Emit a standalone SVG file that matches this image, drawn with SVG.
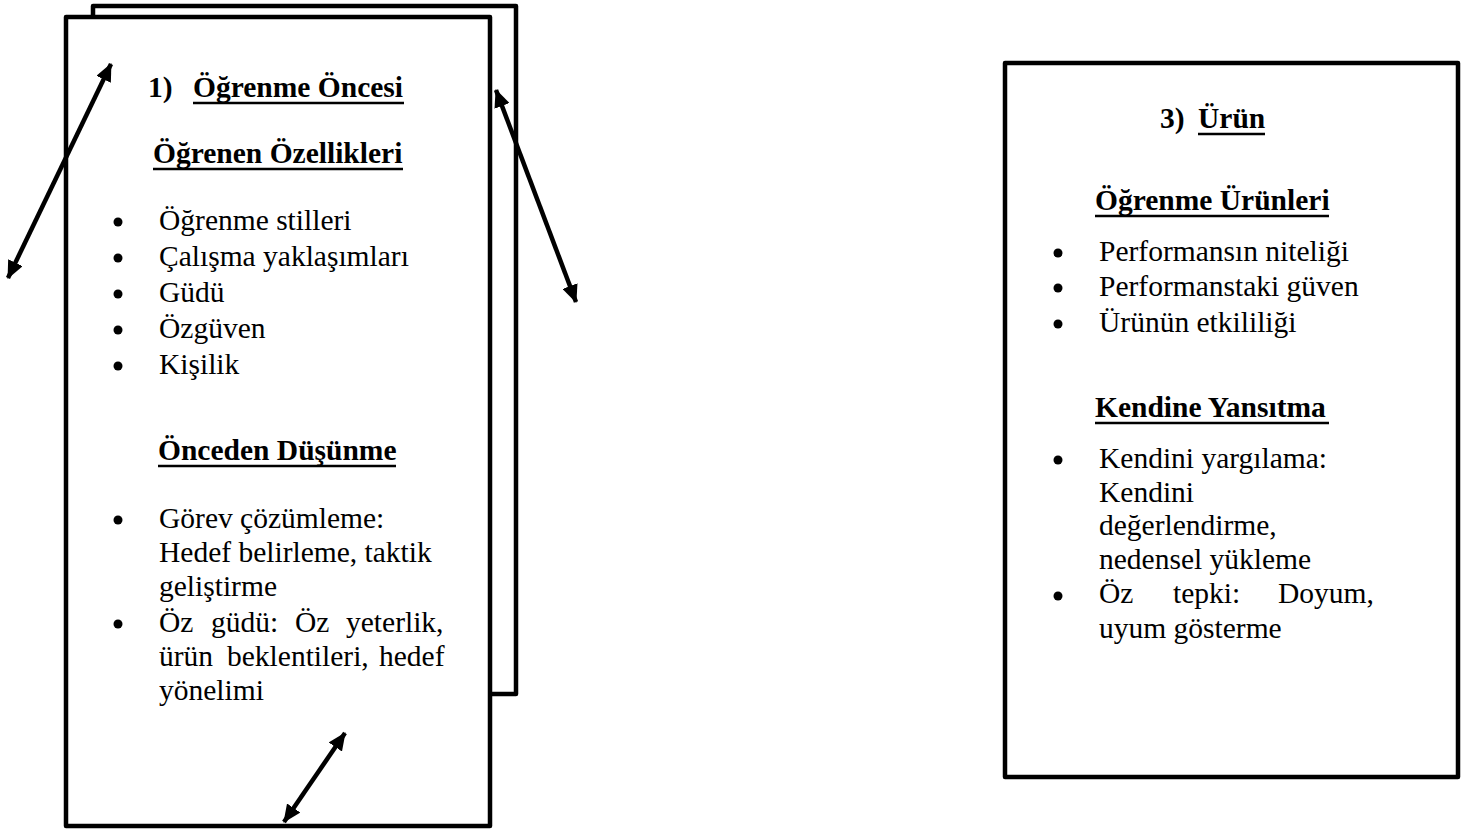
<svg xmlns="http://www.w3.org/2000/svg" width="1470" height="830" viewBox="0 0 1470 830">
<defs>
<style>
.box{fill:#fff;stroke:#000;stroke-width:4.5;stroke-linejoin:round}
text{font-family:"Liberation Serif","Times New Roman",serif;font-size:29.5px;fill:#000}
.h{font-weight:bold}
.ul{stroke:#000;stroke-width:2.6}
.bul{fill:#000}
.conn line{stroke:#000;stroke-width:4.5}
</style>
<marker id="ah" viewBox="0 0 18 16" refX="17" refY="8" markerWidth="18" markerHeight="16" markerUnits="userSpaceOnUse" orient="auto-start-reverse">
<path d="M0,0 L18,8 L0,16 z" fill="#000"/>
</marker>
</defs>
<rect width="1470" height="830" fill="#fff"/>

<g id="node-back">
<rect class="box" x="93" y="6" width="423" height="688"/>
</g>

<g id="node-ogrenme-oncesi">
<rect class="box" x="66" y="17" width="424" height="809"/>
<text class="h" x="148" y="97">1)</text>
<text class="h" x="193" y="97">Öğrenme Öncesi</text>
<line class="ul" x1="193" y1="103" x2="404" y2="103"/>
<text class="h" x="153" y="163">Öğrenen Özellikleri</text>
<line class="ul" x1="153" y1="169" x2="403" y2="169"/>
<circle class="bul" cx="118" cy="222" r="4.5"/>
<text x="159" y="230">Öğrenme stilleri</text>
<circle class="bul" cx="118" cy="258" r="4.5"/>
<text x="159" y="266">Çalışma yaklaşımları</text>
<circle class="bul" cx="118" cy="294" r="4.5"/>
<text x="159" y="302">Güdü</text>
<circle class="bul" cx="118" cy="330" r="4.5"/>
<text x="159" y="338">Özgüven</text>
<circle class="bul" cx="118" cy="366" r="4.5"/>
<text x="159" y="374">Kişilik</text>
<text class="h" x="158" y="460">Önceden Düşünme</text>
<line class="ul" x1="158" y1="466" x2="396" y2="466"/>
<circle class="bul" cx="118" cy="520" r="4.5"/>
<text x="159" y="528">Görev çözümleme:</text>
<text x="159" y="562">Hedef belirleme, taktik</text>
<text x="159" y="596">geliştirme</text>
<circle class="bul" cx="118" cy="624" r="4.5"/>
<text y="632"><tspan x="159">Öz</tspan><tspan x="211">güdü:</tspan><tspan x="295">Öz</tspan><tspan x="346">yeterlik,</tspan></text>
<text y="666"><tspan x="159">ürün</tspan><tspan x="227">beklentileri,</tspan><tspan x="379">hedef</tspan></text>
<text x="159" y="700">yönelimi</text>
</g>

<g id="node-urun">
<rect class="box" x="1005" y="63" width="453" height="714"/>
<text class="h" x="1160" y="128">3)</text>
<text class="h" x="1198" y="128">Ürün</text>
<line class="ul" x1="1198" y1="134" x2="1265" y2="134"/>
<text class="h" x="1095" y="210">Öğrenme Ürünleri</text>
<line class="ul" x1="1095" y1="216" x2="1329" y2="216"/>
<circle class="bul" cx="1058" cy="253" r="4.5"/>
<text x="1099" y="261">Performansın niteliği</text>
<circle class="bul" cx="1058" cy="288" r="4.5"/>
<text x="1099" y="296">Performanstaki güven</text>
<circle class="bul" cx="1058" cy="324" r="4.5"/>
<text x="1099" y="332">Ürünün etkililiği</text>
<text class="h" x="1095" y="417">Kendine Yansıtma</text>
<line class="ul" x1="1095" y1="423" x2="1329" y2="423"/>
<circle class="bul" cx="1058" cy="460" r="4.5"/>
<text x="1099" y="468">Kendini yargılama:</text>
<text x="1099" y="502">Kendini</text>
<text x="1099" y="535">değerlendirme,</text>
<text x="1099" y="569">nedensel yükleme</text>
<circle class="bul" cx="1058" cy="596" r="4.5"/>
<text y="603"><tspan x="1099">Öz</tspan><tspan x="1173">tepki:</tspan><tspan x="1278">Doyum,</tspan></text>
<text x="1099" y="638">uyum gösterme</text>
</g>

<g id="connectors" class="conn">
<line x1="8" y1="278" x2="111" y2="64" marker-start="url(#ah)" marker-end="url(#ah)"/>
<line x1="496" y1="90" x2="576" y2="302" marker-start="url(#ah)" marker-end="url(#ah)"/>
<line x1="284" y1="822" x2="345" y2="733" marker-start="url(#ah)" marker-end="url(#ah)"/>
</g>
</svg>
